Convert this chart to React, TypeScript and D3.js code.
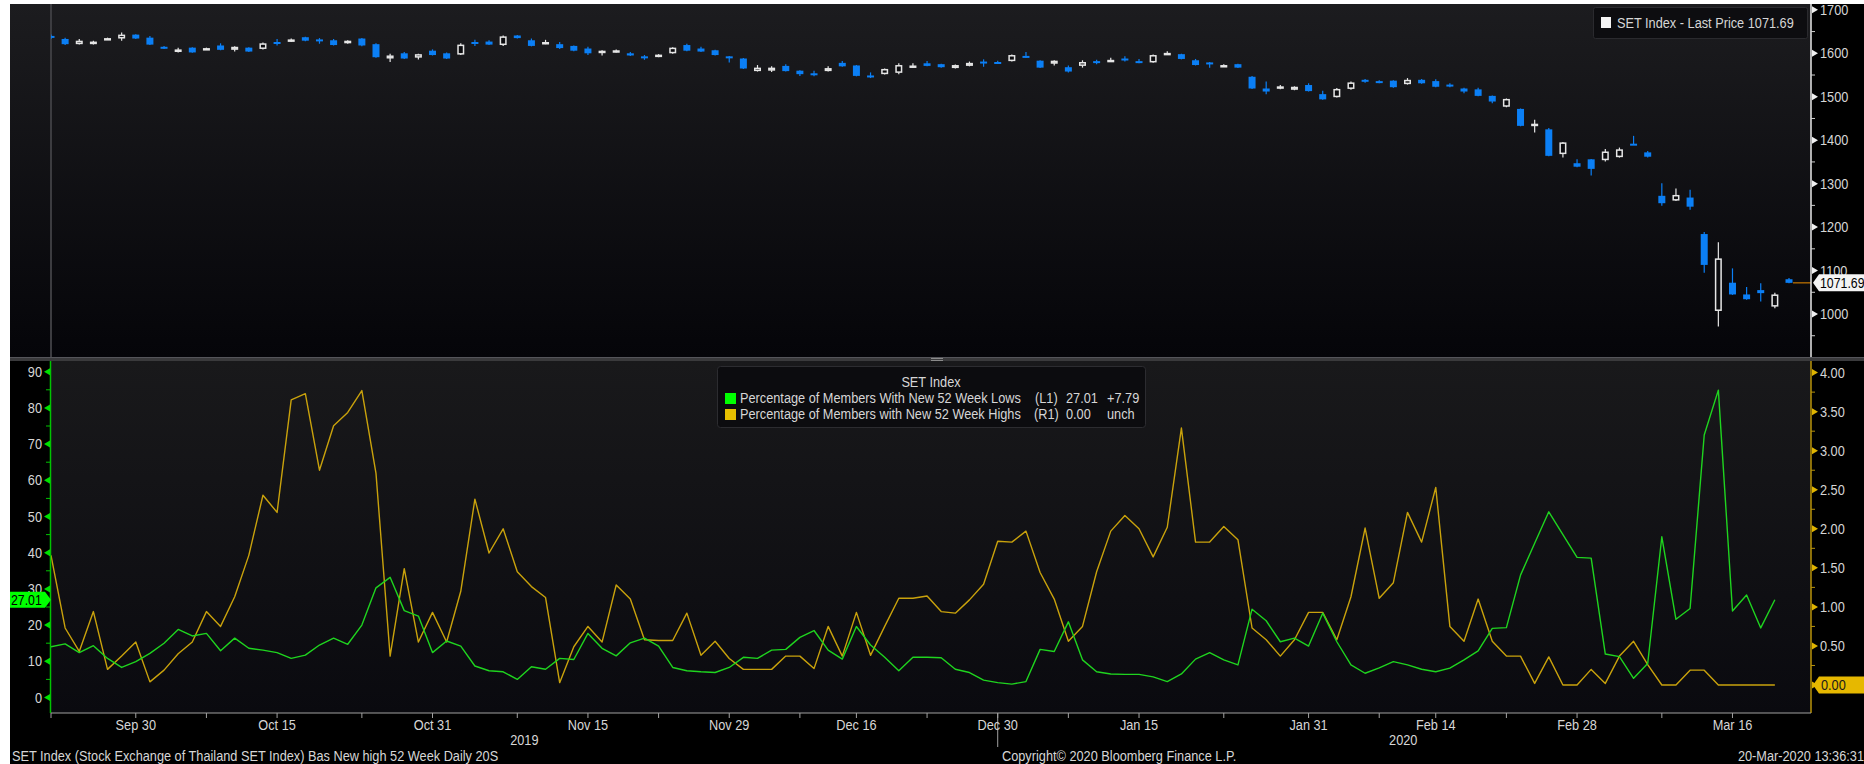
import * as d3 from "d3";

// SET Index daily OHLC, 20 Sep 2019 .. 20 Mar 2020 (trading days)
const open = [1640, 1633, 1621, 1621, 1633, 1634, 1643, 1636, 1615, 1603, 1613, 1610, 1618, 1608, 1613, 1610, 1626, 1627, 1637, 1632, 1630, 1623, 1634, 1621, 1588, 1600, 1590, 1606, 1600, 1597, 1626, 1627, 1619, 1641, 1630, 1625, 1621, 1617, 1611, 1602, 1606, 1600, 1593, 1592, 1600, 1619, 1611, 1607, 1593, 1588, 1559, 1560, 1571, 1560, 1554, 1559, 1578, 1572, 1549, 1552, 1555, 1570, 1577, 1575, 1566, 1571, 1581, 1580, 1582, 1594, 1583, 1576, 1568, 1571, 1582, 1583, 1588, 1582, 1579, 1599, 1598, 1584, 1579, 1571, 1575, 1546, 1519, 1522, 1516, 1527, 1506, 1499, 1518, 1539, 1536, 1537, 1529, 1539, 1536, 1528, 1519, 1517, 1502, 1477, 1472, 1435, 1425, 1368, 1347, 1356, 1354, 1361, 1392, 1372, 1272, 1261, 1268, 1184, 1007, 1072, 1045, 1055, 1017, 1080];
const high = [1643, 1636, 1633, 1629, 1636, 1648, 1644, 1640, 1617, 1613, 1614, 1613, 1623, 1616, 1614, 1625, 1633, 1634, 1638, 1635, 1633, 1630, 1635, 1623, 1599, 1603, 1599, 1609, 1602, 1623, 1631, 1630, 1641, 1642, 1634, 1631, 1626, 1618, 1615, 1607, 1609, 1603, 1596, 1598, 1614, 1622, 1615, 1608, 1594, 1589, 1573, 1570, 1575, 1561, 1560, 1570, 1582, 1573, 1556, 1565, 1577, 1577, 1582, 1576, 1574, 1581, 1586, 1583, 1597, 1603, 1584, 1584, 1572, 1584, 1585, 1590, 1593, 1587, 1597, 1605, 1599, 1587, 1580, 1575, 1576, 1548, 1535, 1527, 1524, 1531, 1514, 1520, 1535, 1541, 1538, 1538, 1543, 1541, 1540, 1531, 1521, 1521, 1503, 1496, 1473, 1447, 1428, 1396, 1356, 1357, 1380, 1383, 1410, 1375, 1301, 1289, 1286, 1189, 1165, 1105, 1062, 1071, 1049, 1083];
const low = [1633, 1619, 1620, 1620, 1631, 1629, 1633, 1619, 1610, 1602, 1601, 1609, 1607, 1604, 1603, 1609, 1618, 1626, 1628, 1622, 1618, 1622, 1616, 1590, 1580, 1587, 1586, 1595, 1587, 1596, 1617, 1619, 1617, 1634, 1616, 1621, 1610, 1605, 1596, 1595, 1602, 1594, 1585, 1591, 1599, 1605, 1603, 1595, 1579, 1564, 1558, 1557, 1558, 1548, 1547, 1558, 1569, 1547, 1543, 1551, 1552, 1566, 1570, 1567, 1565, 1570, 1569, 1576, 1581, 1590, 1566, 1572, 1556, 1567, 1575, 1580, 1581, 1577, 1578, 1596, 1586, 1572, 1567, 1569, 1566, 1518, 1506, 1517, 1515, 1512, 1493, 1498, 1516, 1532, 1531, 1521, 1528, 1530, 1522, 1522, 1508, 1501, 1485, 1476, 1432, 1418, 1363, 1360, 1338, 1319, 1351, 1360, 1389, 1360, 1249, 1260, 1240, 1095, 971, 1044, 1033, 1029, 1013, 1071];
const close = [1636, 1621, 1629, 1627, 1635, 1643, 1634, 1620, 1612, 1609, 1602, 1612, 1608, 1615, 1604, 1623, 1624, 1632, 1629, 1628, 1619, 1629, 1618, 1591, 1595, 1588, 1598, 1596, 1588, 1620, 1622, 1620, 1639, 1635, 1617, 1626, 1612, 1606, 1600, 1606, 1607, 1595, 1591, 1597, 1613, 1606, 1604, 1596, 1590, 1565, 1567, 1567, 1559, 1552, 1552, 1566, 1570, 1548, 1547, 1564, 1573, 1572, 1571, 1568, 1573, 1578, 1578, 1578, 1596, 1591, 1567, 1583, 1558, 1580, 1579, 1585, 1586, 1580, 1596, 1601, 1587, 1573, 1575, 1573, 1567, 1519, 1512, 1524, 1523, 1513, 1494, 1518, 1533, 1536, 1534, 1522, 1539, 1531, 1523, 1526, 1512, 1502, 1489, 1495, 1433, 1438, 1364, 1395, 1339, 1334, 1374, 1379, 1390, 1362, 1255, 1274, 1247, 1113, 1128, 1045, 1034, 1048, 1045, 1071.69];

// % of members with new 52 week lows (L1) and highs (R1)
const newLows = [14.0, 14.8, 12.4, 14.3, 10.8, 8.3, 9.9, 12.2, 15.0, 18.8, 17.0, 17.7, 12.9, 16.4, 13.6, 13.1, 12.4, 10.8, 11.7, 14.5, 16.4, 14.7, 20.0, 30.3, 33.2, 24.0, 22.5, 12.4, 15.6, 14.2, 8.7, 7.4, 7.1, 5.0, 8.5, 7.8, 10.8, 10.5, 17.7, 13.6, 11.5, 15.1, 16.4, 14.2, 8.3, 7.4, 7.1, 6.9, 8.3, 11.1, 10.8, 13.1, 13.3, 16.6, 18.5, 13.1, 10.6, 19.6, 14.5, 11.1, 7.4, 11.1, 11.1, 11.0, 7.8, 6.9, 4.8, 4.1, 3.7, 4.4, 13.3, 12.7, 20.9, 10.4, 7.1, 6.5, 6.4, 6.4, 5.7, 4.4, 6.5, 10.6, 12.4, 10.4, 9.0, 24.4, 21.2, 15.4, 16.4, 14.2, 23.3, 15.4, 9.0, 6.7, 8.2, 9.9, 9.0, 7.8, 7.1, 8.1, 10.4, 12.9, 19.1, 19.3, 33.8, 42.6, 51.3, 45.0, 38.7, 38.5, 12.0, 11.3, 5.3, 9.4, 44.4, 21.6, 24.6, 72.5, 84.9, 23.9, 28.3, 19.22, 27.01];
const newHighs = [1.66, 0.73, 0.43, 0.94, 0.2, 0.37, 0.55, 0.04, 0.19, 0.4, 0.55, 0.94, 0.75, 1.13, 1.66, 2.43, 2.21, 3.65, 3.73, 2.75, 3.32, 3.49, 3.77, 2.71, 0.37, 1.49, 0.55, 0.93, 0.55, 1.2, 2.38, 1.69, 2.0, 1.45, 1.26, 1.12, 0.03, 0.49, 0.75, 0.55, 1.28, 1.1, 0.58, 0.57, 0.57, 0.92, 0.38, 0.56, 0.34, 0.2, 0.2, 0.2, 0.37, 0.37, 0.21, 0.75, 0.37, 0.93, 0.38, 0.75, 1.11, 1.11, 1.14, 0.94, 0.92, 1.09, 1.29, 1.84, 1.83, 1.97, 1.44, 1.1, 0.56, 0.75, 1.45, 1.97, 2.17, 2.0, 1.64, 2.02, 3.29, 1.83, 1.83, 2.03, 1.86, 0.73, 0.58, 0.37, 0.58, 0.93, 0.93, 0.58, 1.13, 2.01, 1.11, 1.31, 2.21, 1.83, 2.53, 0.75, 0.56, 1.1, 0.56, 0.37, 0.37, 0.02, 0.36, 0, 0, 0.2, 0.02, 0.37, 0.56, 0.26, 0, 0, 0.19, 0.19, 0, 0, 0, 0, 0];

// x axis labels (trading-day index)
const dateLabels = ["Sep 30", "Oct 15", "Oct 31", "Nov 15", "Nov 29", "Dec 16", "Dec 30", "Jan 15", "Jan 31", "Feb 14", "Feb 28", "Mar 16"];
const dateIdx = [6, 16, 27, 38, 48, 57, 67, 77, 89, 98, 108, 119];
const years = ["2019", "2020"];
const yearIdx = [33.5, 95.7];
const yearBreak = 67;

const FONT = "'Liberation Sans',Arial,sans-serif";
const SX = 0.85; // squeeze glyphs to a narrow face
const TXT = "#d6d6d6";
const BLUE = "#0b7ff5";
const GREEN = "#1fd41f";
const GOLD = "#c9a20c";

const LEFT = 51;
const RIGHT = 1811;
const TOP = 4;
const SEP = 357;
const BOT_TOP = 361;
const AXIS_Y = 713;

type TProps = { x: number; y: number; s?: number; anchor?: string; fill?: string; children: any };
const T = ({ x, y, s = 15, anchor = "start", fill = TXT, children }: TProps) => (
  <text transform={`translate(${x},${y}) scale(${SX},1)`} fontSize={s} textAnchor={anchor} fill={fill}>
    {children}
  </text>
);

export default function App() {
  const x = d3.scaleLinear().domain([0, 123]).range([LEFT, 1789]);
  const yTop = d3.scaleLinear().domain([1000, 1700]).range([314, 9.85]);
  const yL = d3.scaleLinear().domain([0, 90]).range([697.5, 371.7]);
  const yR = d3.scaleLinear().domain([0, 4]).range([685, 372.6]);

  const lowLine = d3.line<number>().x((_, i) => x(i)).y((d) => yL(d));
  const highLine = d3.line<number>().x((_, i) => x(i)).y((d) => yR(d));

  const bw = 7;
  const candles = open.map((o, i) => {
    const c = close[i];
    const up = c > o;
    const cx = x(i);
    const top = yTop(Math.max(o, c));
    const bh = Math.max(2, yTop(Math.min(o, c)) - top);
    const col = up ? "#e6e6e6" : BLUE;
    return (
      <g key={i}>
        <line x1={cx} x2={cx} y1={yTop(high[i])} y2={yTop(low[i])} stroke={col} strokeWidth={1.2} />
        {up ? (
          <rect x={cx - bw / 2 + 0.75} y={top + 0.75} width={bw - 1.5} height={Math.max(1, bh - 1.5)} fill="#0b0b0e" stroke={col} strokeWidth={1.5} />
        ) : (
          <rect x={cx - bw / 2} y={top} width={bw} height={bh} fill={col} />
        )}
      </g>
    );
  });

  const topTicks = d3.range(1000, 1701, 100);
  const topMinor = d3.range(950, 1651, 100);
  const lTicks = d3.range(0, 91, 10);
  const lMinor = d3.range(5, 86, 10);
  const rTicks = d3.range(0, 4.01, 0.5);
  const rMinor = d3.range(0.25, 3.8, 0.5);
  const xTicks = [0, ...dateIdx, ...d3.pairs(dateIdx).map(([a, b]) => Math.ceil((a + b) / 2))];

  const lastY = yTop(close[close.length - 1]);
  const lastL = newLows[newLows.length - 1];
  const lastR = newHighs[newHighs.length - 1];

  return (
    <div style={{ position: "absolute", left: 0, top: 0 }}>
      <svg width={1864} height={764} style={{ display: "block", fontFamily: FONT }}>
        <defs>
          <linearGradient id="gTop" x1="0" y1="0" x2="0" y2="1">
            <stop offset="0" stopColor="#1c1c1f" />
            <stop offset="1" stopColor="#050509" />
          </linearGradient>
          <linearGradient id="gBot" x1="0" y1="0" x2="0" y2="1">
            <stop offset="0" stopColor="#19191b" />
            <stop offset="1" stopColor="#0a0a0f" />
          </linearGradient>
          <clipPath id="cTop">
            <rect x={LEFT} y={TOP} width={RIGHT - LEFT} height={SEP - TOP} />
          </clipPath>
          <clipPath id="cBot">
            <rect x={LEFT} y={BOT_TOP} width={RIGHT - LEFT} height={AXIS_Y - BOT_TOP} />
          </clipPath>
        </defs>

        {/* backgrounds */}
        <rect x={10} y={TOP} width={1854} height={760} fill="#000" />
        <rect x={10} y={TOP} width={RIGHT - 10} height={SEP - TOP} fill="url(#gTop)" />
        <rect x={LEFT} y={BOT_TOP} width={RIGHT - LEFT} height={AXIS_Y - BOT_TOP} fill="url(#gBot)" />
        <rect x={10} y={SEP} width={1854} height={4} fill="#3a3a3c" />
        <rect x={10} y={SEP} width={1854} height={1} fill="#55555a" />
        <line x1={931} x2={943} y1={358.5} y2={358.5} stroke="#8a8a8a" />
        <line x1={931} x2={943} y1={360.5} y2={360.5} stroke="#8a8a8a" />

        {/* top panel */}
        <line x1={LEFT} x2={LEFT} y1={TOP} y2={SEP} stroke="#3c3c40" strokeWidth={2} />
        <g clipPath="url(#cTop)">{candles}</g>
        <line x1={x(123) + 4} x2={RIGHT} y1={lastY} y2={lastY} stroke="#c87800" strokeWidth={1.2} />

        <line x1={RIGHT} x2={RIGHT} y1={TOP} y2={SEP} stroke="#e8e8e8" strokeWidth={1.5} />
        {topMinor.map((v) => (
          <line key={v} x1={RIGHT} x2={RIGHT + 4} y1={yTop(v)} y2={yTop(v)} stroke="#cfcfcf" />
        ))}
        {topTicks.map((v) => (
          <g key={v}>
            <path d={`M${RIGHT + 1},${yTop(v) - 3.5}L${RIGHT + 7},${yTop(v)}L${RIGHT + 1},${yTop(v) + 3.5}Z`} fill="#f0f0f0" />
            <T x={RIGHT + 9} y={yTop(v) + 5}>{v}</T>
          </g>
        ))}
        <path d={`M${RIGHT + 2},${lastY}L${RIGHT + 8},${lastY - 8.5}L1864,${lastY - 8.5}L1864,${lastY + 8.5}L${RIGHT + 8},${lastY + 8.5}Z`} fill="#f4f4f4" />
        <T x={RIGHT + 9} y={lastY + 5} s={14.5} fill="#000">{close[close.length - 1].toFixed(2)}</T>

        <rect x={1593.5} y={7.5} width={214} height={31} rx={2} fill="#0d0d10" stroke="#2a2a2e" />
        <rect x={1601} y={17} width={10} height={11} fill="#f4f4f4" />
        <T x={1617} y={28}>SET Index - Last Price {close[close.length - 1].toFixed(2)}</T>

        {/* bottom panel */}
        <g clipPath="url(#cBot)" fill="none" strokeLinejoin="round">
          <path d={highLine(newHighs) ?? ""} stroke={GOLD} strokeWidth={1.4} />
          <path d={lowLine(newLows) ?? ""} stroke={GREEN} strokeWidth={1.4} />
        </g>

        {/* left axis (L1) */}
        <line x1={LEFT - 0.5} x2={LEFT - 0.5} y1={BOT_TOP} y2={AXIS_Y} stroke="#00c400" strokeWidth={1.5} />
        {lMinor.map((v) => (
          <line key={v} x1={LEFT - 5} x2={LEFT} y1={yL(v)} y2={yL(v)} stroke="#00c400" />
        ))}
        {lTicks.map((v) => (
          <g key={v}>
            <path d={`M${LEFT - 1},${yL(v) - 3.5}L${LEFT - 7},${yL(v)}L${LEFT - 1},${yL(v) + 3.5}Z`} fill="#00e000" />
            <T x={LEFT - 9} y={yL(v) + 5} anchor="end">{v}</T>
          </g>
        ))}
        <path d={`M10,${yL(lastL) - 8}L${LEFT - 6},${yL(lastL) - 8}L${LEFT},${yL(lastL)}L${LEFT - 6},${yL(lastL) + 8}L10,${yL(lastL) + 8}Z`} fill="#00ff00" />
        <T x={11} y={yL(lastL) + 5} s={14.5} fill="#000">{lastL.toFixed(2)}</T>

        {/* right axis (R1) */}
        <line x1={RIGHT} x2={RIGHT} y1={BOT_TOP} y2={AXIS_Y} stroke="#b8930a" strokeWidth={1.5} />
        {rMinor.map((v) => (
          <line key={v} x1={RIGHT} x2={RIGHT + 4} y1={yR(v)} y2={yR(v)} stroke="#b8930a" />
        ))}
        {rTicks.map((v) => (
          <g key={v}>
            <path d={`M${RIGHT + 1},${yR(v) - 3.5}L${RIGHT + 7},${yR(v)}L${RIGHT + 1},${yR(v) + 3.5}Z`} fill="#e0b400" />
            <T x={RIGHT + 9} y={yR(v) + 5}>{v.toFixed(2)}</T>
          </g>
        ))}
        <path d={`M${RIGHT + 2},${yR(lastR)}L${RIGHT + 8},${yR(lastR) - 8.5}L1864,${yR(lastR) - 8.5}L1864,${yR(lastR) + 8.5}L${RIGHT + 8},${yR(lastR) + 8.5}Z`} fill="#e6b800" />
        <T x={RIGHT + 10} y={yR(lastR) + 5} fill="#1a1a1a">{lastR.toFixed(2)}</T>

        {/* bottom legend */}
        <rect x={717.5} y={366.5} width={428} height={61} rx={3} fill="#0c0c0f" stroke="#2c2c30" />
        <T x={931} y={387} anchor="middle">SET Index</T>
        <rect x={725} y={393} width={11} height={11} fill="#00ff00" />
        <T x={740} y={403}>Percentage of Members With New 52 Week Lows</T>
        <T x={1035} y={403}>(L1)</T>
        <T x={1066} y={403}>{lastL.toFixed(2)}</T>
        <T x={1107} y={403}>+7.79</T>
        <rect x={725} y={409} width={11} height={11} fill="#e6c000" />
        <T x={740} y={419}>Percentage of Members with New 52 Week Highs</T>
        <T x={1034} y={419}>(R1)</T>
        <T x={1066} y={419}>{lastR.toFixed(2)}</T>
        <T x={1107} y={419}>unch</T>

        {/* x axis */}
        <line x1={LEFT} x2={RIGHT} y1={AXIS_Y} y2={AXIS_Y} stroke="#a0a0a0" strokeWidth={1.2} />
        {xTicks.map((t, i) => (
          <line key={i} x1={x(t)} x2={x(t)} y1={AXIS_Y} y2={AXIS_Y + 5} stroke="#a0a0a0" />
        ))}
        <line x1={x(yearBreak)} x2={x(yearBreak)} y1={AXIS_Y} y2={747} stroke="#a0a0a0" />
        {dateLabels.map((l, i) => (
          <T key={l} x={x(dateIdx[i])} y={730} anchor="middle">{l}</T>
        ))}
        {years.map((l, i) => (
          <T key={l} x={x(yearIdx[i])} y={745} anchor="middle">{l}</T>
        ))}

        {/* footer */}
        <T x={12} y={761}>SET Index (Stock Exchange of Thailand SET Index) Bas New high 52 Week  Daily 20S</T>
        <T x={1002} y={761}>Copyright© 2020 Bloomberg Finance L.P.</T>
        <T x={1864} y={761} anchor="end">20-Mar-2020 13:36:31</T>
      </svg>
    </div>
  );
}
